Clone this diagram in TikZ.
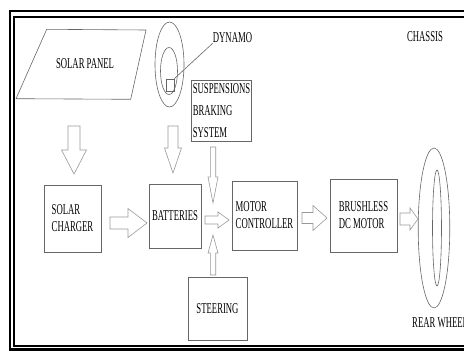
\documentclass[tikz,border=0pt]{standalone}
\usepackage{fontspec}
\setmainfont[FakeStretch=0.58]{Liberation Serif}
\tikzset{
	box/.style={draw=gray!80!black, line width=0.6pt, align=left, inner sep=2pt, font=\fontsize{15}{17}\selectfont},
	lbl/.style={inner sep=0pt, font=\fontsize{15}{17}\selectfont},
	outline/.style={draw=gray!80!black, line width=0.6pt},
	arrowline/.style={draw=gray!80, line width=0.6pt, fill=white},
}
% tail, angle, length, shaft half width, head half width, head length
\newcommand{\hollowarrow}[6]{%
	\begin{scope}[shift={(#1)}, rotate=#2]
		\draw[arrowline] (0,-#4) -- (#3-#6,-#4) -- (#3-#6,-#5) -- (#3,0) -- (#3-#6,#5) -- (#3-#6,#4) -- (0,#4) -- cycle;
	\end{scope}}
\begin{document}
\begin{tikzpicture}[x=1pt, y=-1pt]
	\useasboundingbox (0,0) rectangle (464,351);
	\draw[line width=2.4pt] (9.7,10.7) rectangle (475,349.5);
	\draw[line width=2pt] (13.8,17) rectangle (470,346);
	
	\draw[outline] (46.7,29.3) -- (146,30) -- (130.7,99.3) -- (16,98.7) -- cycle;
	\node[lbl] (panel) at (85,64) {SOLAR PANEL};
	
	\draw[outline] (169.5,64.5) ellipse [x radius=14.5, y radius=42.5];
	\draw[outline] (169,71) ellipse [x radius=8.5, y radius=23.5];
	\node[outline, inner sep=0pt, minimum width=8, minimum height=12] (dyn) at (170,85) {};
	\node[lbl] (dynamo) at (232.5,38) {DYNAMO};
	\draw[outline] (dyn.north east) -- (dynamo.south west);
	\node[lbl] (chassis) at (425,37) {CHASSIS};
	
	\node[box, anchor=north west, text width=57, inner xsep=1.5pt, minimum height=61, font=\fontsize{15}{22}\selectfont] (susp) at (191,80) {SUSPENSIONS\\BRAKING\\SYSTEM};
	\node[box, minimum width=57, minimum height=67] (charger) at (72.5,218.5) {SOLAR\\CHARGER};
	\node[box, minimum width=52, minimum height=64] (batt) at (175,216) {BATTERIES};
	\node[box, minimum width=65, minimum height=69] (ctrl) at (264.5,215.5) {MOTOR\\CONTROLLER};
	\node[box, minimum width=67, minimum height=73] (bldc) at (363.5,215.5) {BRUSHLESS\\DC MOTOR};
	\node[box, minimum width=59, minimum height=63] (steer) at (217.5,308.5) {STEERING};
	
	\draw[outline] (434,228) ellipse [x radius=15.8, y radius=80];
	\draw[outline] (437,228) ellipse [x radius=4.5, y radius=58];
	\node[lbl, anchor=west] (wheel) at (412,323) {REAR WHEEL};
	
	\coordinate (a1) at (74,126);
	\coordinate (a2) at (173,126);
	\coordinate (a3) at (110,223);
	\coordinate (a4) at (205,220);
	\coordinate (a5) at (213,147);
	\coordinate (a6) at (213,275);
	\coordinate (a7) at (302,218);
	\coordinate (a8) at (400,219);
	\hollowarrow{a1}{-90}{48}{6}{12.5}{24}
	\hollowarrow{a2}{-90}{47}{5}{8.5}{25}
	\hollowarrow{a3}{0}{37}{6}{14.5}{19}
	\hollowarrow{a4}{0}{24}{4}{8}{11}
	\hollowarrow{a5}{-90}{56}{2.7}{5}{26}
	\hollowarrow{a6}{90}{40}{2.7}{5}{18}
	\hollowarrow{a7}{0}{25}{5.5}{12.5}{14}
	\hollowarrow{a8}{0}{18}{6}{11}{8}
\end{tikzpicture}
\end{document}
